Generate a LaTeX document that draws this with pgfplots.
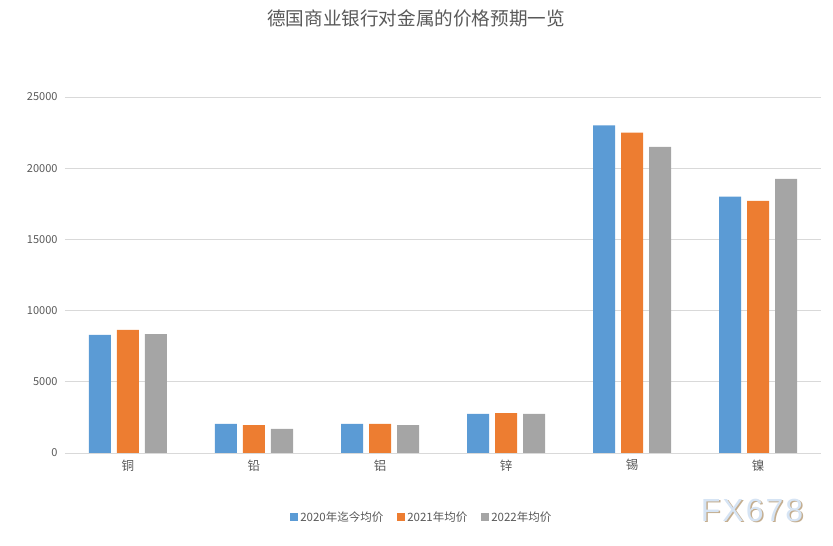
\documentclass[border=0pt]{standalone}
\usepackage{fontspec}
\setmainfont{Noto Sans CJK SC}
\newfontfamily\wmfont{Liberation Sans}
\usepackage{pgfplots}
\pgfplotsset{compat=1.18}

\definecolor{sblue}{HTML}{5B9BD5}
\definecolor{sorange}{HTML}{ED7D31}
\definecolor{sgray}{HTML}{A5A5A5}
\definecolor{txt}{HTML}{595959}
\definecolor{gridc}{HTML}{D9D9D9}
\definecolor{wmblue}{HTML}{D6E4F4}
\definecolor{wmshadow}{HTML}{C4AE90}

\begin{document}
\begin{tikzpicture}
\begin{axis}[
    scale only axis,
    width=756pt, height=356pt,
    ybar=6pt,
    bar width=22pt,
    ymin=0, ymax=25000,
    ytick={0,5000,10000,15000,20000,25000},
    xmin=-0.5, xmax=5.5,
    xtick=data,
    xticklabels={铜,铅,铝,锌,锡,镍},
    xmajorgrids=false,
    ymajorgrids=true,
    grid style={draw=gridc, line width=0.8pt},
    axis line style={draw=none},
    tick style={draw=none},
    major tick length=0pt,
    scaled y ticks=false,
    /pgf/number format/assume math mode=true,
    /pgf/number format/1000 sep={},
    ticklabel style={font=\fontsize{11}{13}\selectfont, text=txt},
    yticklabel style={xshift=-4pt},
    xticklabel style={yshift=-3pt, font=\fontsize{12.5}{14}\selectfont},
    legend columns=3,
    legend style={at={(axis description cs:0.472,0)}, anchor=center, yshift=-64pt,
        draw=none, font=\fontsize{11.5}{13}\selectfont, text=txt,
        /tikz/every even column/.append style={column sep=12pt}},
    legend image code/.code={\fill[#1] (0pt,-4pt) rectangle (8pt,4pt);},
]
\addplot[fill=sblue, draw=none] coordinates {(0,8300) (1,2050) (2,2050) (3,2750) (4,23000) (5,18000)};
\addplot[fill=sorange, draw=none] coordinates {(0,8650) (1,1950) (2,2050) (3,2800) (4,22500) (5,17700)};
\addplot[fill=sgray, draw=none] coordinates {(0,8350) (1,1700) (2,1950) (3,2750) (4,21500) (5,19250)};
\legend{2020年迄今均价, 2021年均价, 2022年均价}
\end{axis}
\node[text=txt, font=\fontsize{18.6}{20}\selectfont] at (351pt,435pt) {德国商业银行对金属的价格预期一览};
\node[text=wmshadow, font=\wmfont\fontsize{32}{32}\selectfont] at (688.5pt,-58.5pt) {F\kern2ptX\kern2pt6\kern2pt7\kern2pt8};
\node[text=wmblue, font=\wmfont\fontsize{32}{32}\selectfont] at (687pt,-57pt) {F\kern2ptX\kern2pt6\kern2pt7\kern2pt8};
\path[use as bounding box] (-65pt,-93pt) rectangle (768pt,453pt);
\end{tikzpicture}
\end{document}
